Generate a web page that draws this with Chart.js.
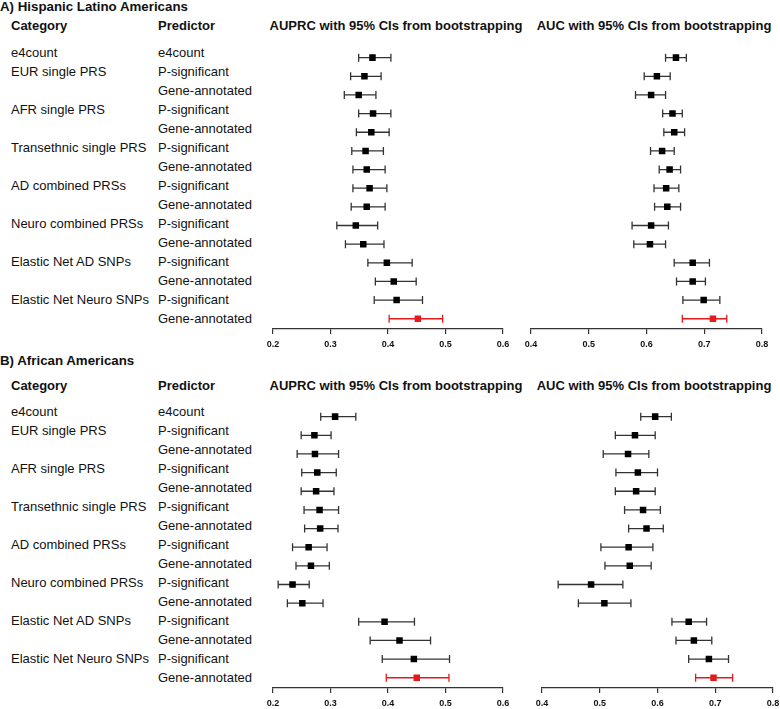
<!DOCTYPE html>
<html>
<head>
<meta charset="utf-8">
<script src="https://cdn.jsdelivr.net/npm/chart.js@4.4.1/dist/chart.umd.min.js"></script>
<style>
  body {
    margin: 0;
    width: 780px;
    height: 709px;
    overflow: hidden;
    position: relative;
    background: #fff;
    font-family: "Liberation Sans", Arial, sans-serif;
    color: #111;
  }
  .t { position: absolute; white-space: nowrap; font-size: 13px; line-height: 19px; }
  .b { font-weight: bold; }
  .c { text-align: center; }
  canvas { position: absolute; }
</style>
</head>
<body>
<div id="labels"></div>
<canvas id="a-auprc" width="254" height="311" style="left:261px;top:43px"></canvas>
<canvas id="a-auc" width="255" height="311" style="left:519px;top:43px"></canvas>
<canvas id="b-auprc" width="254" height="311" style="left:261px;top:402px"></canvas>
<canvas id="b-auc" width="255" height="311" style="left:530px;top:402px"></canvas>
<script>
if (typeof Chart !== "undefined" && Chart.defaults) {
  Chart.defaults.devicePixelRatio = 1;
  Chart.defaults.responsive = false;
  Chart.defaults.maintainAspectRatio = false;
  Chart.defaults.animation = false;
}

const categories = [
  "e4count", "EUR single PRS", "", "AFR single PRS", "",
  "Transethnic single PRS", "", "AD combined PRSs", "",
  "Neuro combined PRSs", "", "Elastic Net AD SNPs", "",
  "Elastic Net Neuro SNPs", "",
];
const predictors = [
  "e4count", "P-significant", "Gene-annotated", "P-significant", "Gene-annotated",
  "P-significant", "Gene-annotated", "P-significant", "Gene-annotated",
  "P-significant", "Gene-annotated", "P-significant", "Gene-annotated",
  "P-significant", "Gene-annotated",
];
const highlightRow = 14; // best model, drawn red

// A) Hispanic Latino Americans
const hlaAuprc = [0.373, 0.359, 0.349, 0.374, 0.371, 0.361, 0.363, 0.368, 0.363, 0.344, 0.357, 0.398, 0.410, 0.415, 0.452];
const hlaAuprcLo = [0.349, 0.335, 0.324, 0.349, 0.345, 0.337, 0.339, 0.339, 0.336, 0.311, 0.326, 0.365, 0.378, 0.376, 0.402];
const hlaAuprcHi = [0.405, 0.388, 0.379, 0.405, 0.402, 0.392, 0.395, 0.398, 0.395, 0.382, 0.393, 0.442, 0.449, 0.460, 0.495];
const hlaAuc = [0.651, 0.618, 0.608, 0.645, 0.648, 0.627, 0.640, 0.634, 0.636, 0.608, 0.606, 0.680, 0.680, 0.699, 0.715];
const hlaAucLo = [0.633, 0.596, 0.581, 0.628, 0.630, 0.607, 0.622, 0.613, 0.614, 0.575, 0.578, 0.648, 0.652, 0.663, 0.662];
const hlaAucHi = [0.669, 0.641, 0.633, 0.662, 0.666, 0.648, 0.659, 0.656, 0.659, 0.638, 0.633, 0.709, 0.702, 0.727, 0.739];

// B) African Americans
const aaAuprc = [0.308, 0.272, 0.273, 0.277, 0.275, 0.281, 0.282, 0.262, 0.266, 0.234, 0.251, 0.394, 0.420, 0.445, 0.450];
const aaAuprcLo = [0.283, 0.249, 0.242, 0.250, 0.249, 0.254, 0.255, 0.234, 0.240, 0.209, 0.225, 0.349, 0.369, 0.390, 0.397];
const aaAuprcHi = [0.344, 0.301, 0.314, 0.310, 0.306, 0.314, 0.313, 0.294, 0.298, 0.263, 0.287, 0.446, 0.474, 0.507, 0.506];
const aaAuc = [0.596, 0.561, 0.549, 0.566, 0.563, 0.575, 0.581, 0.550, 0.552, 0.485, 0.508, 0.654, 0.663, 0.689, 0.697];
const aaAucLo = [0.571, 0.527, 0.506, 0.528, 0.527, 0.543, 0.550, 0.502, 0.509, 0.428, 0.463, 0.625, 0.632, 0.654, 0.666];
const aaAucHi = [0.624, 0.596, 0.585, 0.600, 0.596, 0.605, 0.610, 0.592, 0.589, 0.540, 0.554, 0.685, 0.694, 0.723, 0.730];

const auprcTicks = [0.2, 0.6];
const aucTicks = [0.4, 0.8];

const INK = "#333";
const RED = "#e41a1c";

function addText(text, left, top, cls, width) {
  const d = document.createElement("div");
  d.className = "t " + (cls || "");
  d.textContent = text;
  d.style.left = left + "px";
  d.style.top = top + "px";
  if (width) d.style.width = width + "px";
  document.getElementById("labels").appendChild(d);
  return d;
}

function addPanelText(title, titleTop, headTop, rowTop) {
  addText(title, 0, titleTop, "b").style.fontSize = "13.3px";
  addText("Category", 11, headTop, "b");
  addText("Predictor", 158, headTop, "b");
  addText("AUPRC with 95% CIs from bootstrapping", 266, headTop, "b c", 260);
  addText("AUC with 95% CIs from bootstrapping", 525, headTop, "b c", 258);
  categories.forEach((c, i) => {
    if (c) addText(c, 11, rowTop + i * 19, "");
    addText(predictors[i], 158, rowTop + i * 19, "");
  });
}

function whiskerData(lo, hi, keep) {
  const out = [];
  lo.forEach((l, i) => {
    if (!keep(i)) return;
    out.push({ x: l, y: i + 1 }, { x: hi[i], y: i + 1 }, { x: null, y: null });
  });
  return out;
}

function makeForest(id, est, lo, hi, range) {
  const ctx = document.getElementById(id).getContext("2d");
  const whisker = (color) => ({
    type: "scatter",
    showLine: true,
    spanGaps: false,
    borderColor: color,
    borderWidth: 1.3,
    pointStyle: "line",
    rotation: 90,
    pointRadius: 4,
    pointBorderColor: color,
    pointBorderWidth: 1.3,
  });
  const chart = new Chart(ctx, {
    type: "scatter",
    data: {
      datasets: [
        {
          data: est.map((v, i) => ({ x: v, y: i + 1 })),
          pointStyle: "rect",
          pointRadius: 4.6,
          pointBorderWidth: 0,
          pointBackgroundColor: est.map((v, i) => (i === highlightRow ? RED : "#000")),
        },
        Object.assign(whisker(INK), { data: whiskerData(lo, hi, (i) => i !== highlightRow) }),
        Object.assign(whisker(RED), { data: whiskerData(lo, hi, (i) => i === highlightRow) }),
      ],
    },
    options: {
      events: [],
      layout: { padding: { left: 12, right: 12, top: 0, bottom: 0 } },
      plugins: { legend: { display: false }, tooltip: { enabled: false } },
      scales: {
        y: { type: "linear", reverse: true, min: 0.5, max: 15.55, display: false },
        x: {
          type: "linear",
          min: range[0],
          max: range[1],
          afterFit: (scale) => { scale.height = 25; },
          border: { display: true, color: INK, width: 1.2 },
          grid: { drawOnChartArea: false, drawTicks: true, tickLength: 5, color: INK, lineWidth: 1.2 },
          ticks: {
            stepSize: 0.1,
            padding: 5,
            color: "#111",
            font: { family: "'Liberation Sans', Arial, sans-serif", size: 9, weight: "bold" },
            callback: (v) => v.toFixed(1),
          },
        },
      },
    },
  });
  return chart;
}

addPanelText("A) Hispanic Latino Americans", -3.5, 16, 42.5);
addPanelText("B) African Americans", 350.5, 375.5, 401.5);

makeForest("a-auprc", hlaAuprc, hlaAuprcLo, hlaAuprcHi, auprcTicks);
makeForest("a-auc", hlaAuc, hlaAucLo, hlaAucHi, aucTicks);
makeForest("b-auprc", aaAuprc, aaAuprcLo, aaAuprcHi, auprcTicks);
makeForest("b-auc", aaAuc, aaAucLo, aaAucHi, aucTicks);
</script>
</body>
</html>
